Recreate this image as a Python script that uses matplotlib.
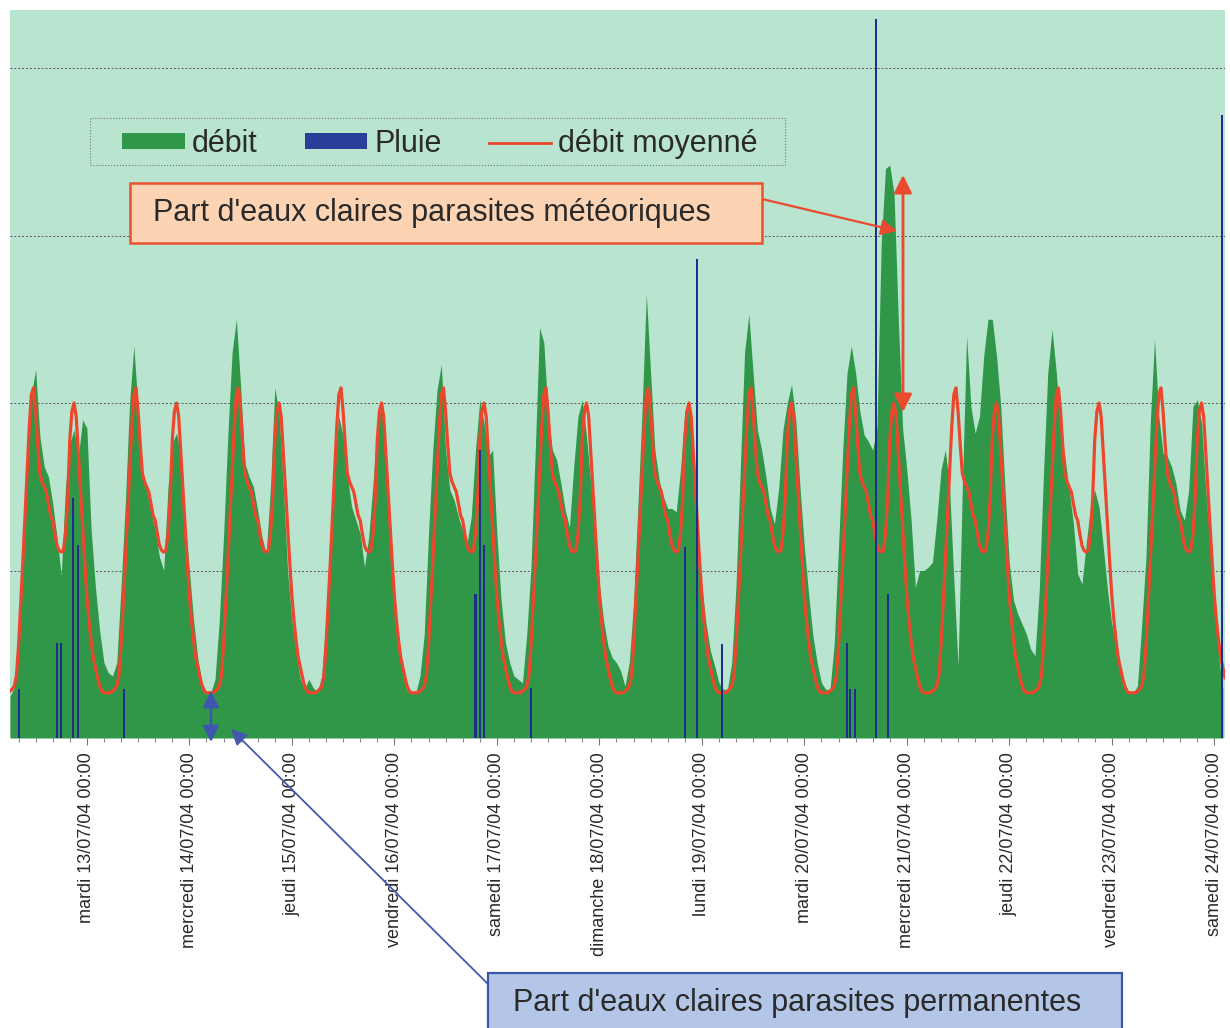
import matplotlib
matplotlib.use("Agg")
import matplotlib.pyplot as plt
import matplotlib.dates as mdates
from matplotlib.patches import Rectangle, Patch
from matplotlib.lines import Line2D
from datetime import datetime, timedelta

plt.rcParams['font.family'] = ['Liberation Sans', 'DejaVu Sans']

W, H, DPI = 1230, 1028, 100

# ---------------- data ----------------
debut = datetime(2004, 7, 12, 6, 0)          # first hourly flow sample
debit = [
    # 12/07 06h-23h
    0.25, 0.30, 0.60, 1.10, 1.70, 2.05, 2.20, 1.80, 1.62, 1.56, 1.40, 1.20, 0.97, 1.50, 1.76, 1.84, 1.68, 1.90,
    # 13/07
    1.85, 1.24, 0.90, 0.64, 0.45, 0.39, 0.37, 0.45, 0.90, 1.40, 2.00, 2.34, 1.96, 1.56, 1.48, 1.36, 1.24, 1.08, 1.00, 1.50, 1.76, 1.82, 1.68, 1.30,
    # 14/07
    1.00, 0.70, 0.47, 0.33, 0.27, 0.27, 0.35, 0.70, 1.20, 1.80, 2.30, 2.50, 2.10, 1.64, 1.56, 1.50, 1.36, 1.20, 1.10, 1.50, 2.09, 1.94, 1.50, 1.00,
    # 15/07
    0.70, 0.50, 0.35, 0.30, 0.35, 0.30, 0.27, 0.37, 0.72, 1.22, 1.62, 1.92, 1.80, 1.56, 1.38, 1.30, 1.22, 1.02, 1.20, 1.52, 1.88, 1.98, 1.62, 1.22,
    # 16/07
    0.82, 0.57, 0.37, 0.28, 0.27, 0.27, 0.37, 0.62, 1.22, 1.72, 2.08, 2.23, 1.72, 1.48, 1.42, 1.32, 1.24, 1.16, 1.32, 1.72, 2.02, 1.88, 1.68, 1.72,
    # 17/07
    1.22, 0.82, 0.57, 0.45, 0.37, 0.35, 0.33, 0.62, 1.02, 1.72, 2.45, 2.36, 1.92, 1.72, 1.66, 1.52, 1.36, 1.26, 1.62, 1.92, 2.02, 1.80, 1.52, 1.22,
    # 18/07
    0.92, 0.70, 0.55, 0.48, 0.45, 0.40, 0.31, 0.45, 0.80, 1.37, 1.95, 2.65, 2.18, 1.72, 1.54, 1.44, 1.37, 1.37, 1.35, 1.60, 1.95, 2.00, 1.60, 1.14,
    # 19/07
    0.91, 0.68, 0.52, 0.43, 0.33, 0.29, 0.29, 0.45, 0.91, 1.60, 2.30, 2.53, 2.18, 1.84, 1.72, 1.56, 1.37, 1.28, 1.49, 1.84, 2.00, 2.11, 1.90, 1.49,
    # 20/07
    1.14, 0.86, 0.61, 0.45, 0.33, 0.29, 0.29, 0.56, 1.14, 1.72, 2.18, 2.34, 2.18, 1.95, 1.81, 1.77, 1.72, 1.85, 2.95, 3.40, 3.42, 3.25, 2.50, 1.85,
    # 21/07
    1.60, 1.30, 0.90, 1.00, 1.00, 1.02, 1.05, 1.30, 1.60, 1.72, 1.50, 0.95, 0.43, 1.50, 2.40, 1.98, 1.82, 1.92, 2.28, 2.50, 2.50, 2.28, 1.98, 1.48,
    # 22/07
    1.04, 0.82, 0.74, 0.68, 0.62, 0.53, 0.49, 0.88, 1.58, 2.18, 2.44, 2.18, 1.84, 1.68, 1.48, 1.28, 0.98, 0.92, 1.16, 1.38, 1.48, 1.38, 1.14, 0.88,
    # 23/07
    0.68, 0.57, 0.41, 0.33, 0.27, 0.27, 0.31, 0.68, 1.08, 1.88, 2.38, 1.92, 1.70, 1.68, 1.62, 1.52, 1.36, 1.30, 1.48, 1.98, 2.02, 1.88, 1.48, 1.16,
    # 24/07 00h-02h
    0.82, 0.49, 0.29,
]

# averaged daily flow profile, one value per half hour from 00:00
profil_moyen = [
    0.85, 0.70, 0.58, 0.48, 0.42, 0.36, 0.31, 0.28, 0.27, 0.27, 0.27, 0.27,
    0.28, 0.29, 0.31, 0.37, 0.55, 0.80, 1.05, 1.32, 1.60, 1.85, 2.05, 2.09,
    1.95, 1.75, 1.58, 1.53, 1.50, 1.47, 1.40, 1.33, 1.30, 1.22, 1.15, 1.12,
    1.11, 1.12, 1.22, 1.42, 1.78, 1.95, 2.00, 1.92, 1.70, 1.48, 1.25, 1.05,
]
fin_moyen = datetime(2004, 7, 24, 2, 30)

pluie_dates = ["12/07/04 08:12", "12/07/04 16:54", "12/07/04 17:54", "12/07/04 20:48",
               "12/07/04 21:54", "13/07/04 08:48", "16/07/04 19:00", "16/07/04 20:00",
               "16/07/04 21:06", "17/07/04 07:54", "18/07/04 20:00", "18/07/04 22:54",
               "19/07/04 04:48", "20/07/04 09:54", "20/07/04 10:48", "20/07/04 11:48",
               "20/07/04 16:42", "20/07/04 19:42", "24/07/04 01:54"]
pluie = [0.29, 0.57, 0.57, 1.43, 1.15, 0.29, 0.86, 1.72, 1.15, 0.30, 1.14, 2.86,
         0.56, 0.57, 0.29, 0.29, 4.29, 0.86, 3.72]

jours = ["mardi 13/07/04 00:00", "mercredi 14/07/04 00:00", "jeudi 15/07/04 00:00",
         "vendredi 16/07/04 00:00", "samedi 17/07/04 00:00", "dimanche 18/07/04 00:00",
         "lundi 19/07/04 00:00", "mardi 20/07/04 00:00", "mercredi 21/07/04 00:00",
         "jeudi 22/07/04 00:00", "vendredi 23/07/04 00:00", "samedi 24/07/04 00:00"]

legende = ["débit", "Pluie", "débit moyenné"]
txt_meteo = "Part d'eaux claires parasites météoriques"
txt_perm = "Part d'eaux claires parasites permanentes"

# ---------------- style ----------------
C_BG = "#b9e4d0"
C_GREEN = "#2f9747"
C_BLUE = "#1f2d8f"
C_BLUE_LEG = "#2a3f9a"
C_RED = "#ec472c"
C_TXT = "#2a2a2a"

# ---------------- build series ----------------
t_debit = [debut + timedelta(hours=i) for i in range(len(debit))]
n_moy = int((fin_moyen - debut) / timedelta(minutes=30)) + 1
t_moy = [debut + timedelta(minutes=30 * i) for i in range(n_moy)]
v_moy = [profil_moyen[t.hour * 2 + t.minute // 30] for t in t_moy]
t_pluie = [datetime.strptime(s, "%d/%m/%y %H:%M") for s in pluie_dates]
t_jours = [datetime.strptime(s.split()[1], "%d/%m/%y") for s in jours]

fig = plt.figure(figsize=(W / DPI, H / DPI), dpi=DPI, facecolor="white")
ax = fig.add_axes([10 / W, 1 - 738 / H, 1215 / W, 728 / H])
ax.set_facecolor(C_BG)

ax.fill_between(t_debit, debit, 0, color=C_GREEN, lw=0, zorder=2)
ax.plot(t_moy, v_moy, color=C_RED, lw=2.3, zorder=3, solid_joinstyle="round")
ax.bar(t_pluie, pluie, width=0.02, color=C_BLUE, lw=0, zorder=4)

ax.set_xlim(debut, fin_moyen)
ax.set_ylim(0, 728 / 167.5)
ax.set_yticks([1, 2, 3, 4])
ax.yaxis.grid(True, color="#555555", lw=0.7, linestyle=(0, (2, 2)), zorder=1)
ax.set_axisbelow(True)
ax.tick_params(axis="y", left=False, labelleft=False)
for s in ax.spines.values():
    s.set_visible(False)

ax.set_xticks(t_jours)
ax.set_xticklabels(jours, rotation=90, ha="center", va="top", fontsize=13, color=C_TXT)
ax.xaxis.set_minor_locator(mdates.HourLocator(byhour=range(0, 24, 4)))
ax.tick_params(axis="x", which="major", length=5, width=0.8, color="#777777", pad=5)
ax.tick_params(axis="x", which="minor", length=3, width=0.8, color="#888888")


def ff(x, y):
    return (x / W, 1 - y / H)


# legend
handles = [Patch(facecolor=C_GREEN, edgecolor="none"),
           Patch(facecolor=C_BLUE_LEG, edgecolor="none"),
           Line2D([], [], color=C_RED, lw=2)]
fig.legend(handles, legende, loc="center", bbox_to_anchor=ff(440, 144), ncol=3,
           frameon=False, fontsize=22, handlelength=2.05, handleheight=0.4,
           handletextpad=0.22, columnspacing=1.55, borderpad=0, labelcolor=C_TXT)
fig.add_artist(Rectangle(ff(90, 165), 695 / W, 47 / H, transform=fig.transFigure,
                         facecolor="none", edgecolor="#777777", lw=0.8, linestyle=":",
                         zorder=5))

# meteoric annotation
fig.add_artist(Rectangle(ff(130, 243), 632 / W, 60 / H, transform=fig.transFigure,
                         facecolor="#fcd3b3", edgecolor="#e9512f", lw=1.8, zorder=10))
fig.text(*ff(432, 213), txt_meteo, ha="center", va="center", fontsize=22,
         color=C_TXT, zorder=11)
ax.annotate("", xy=ff(897, 231), xytext=ff(762, 199), xycoords="figure fraction",
            textcoords="figure fraction",
            arrowprops=dict(arrowstyle="-|>", color="#ea4a2e", lw=1.6,
                            mutation_scale=24, shrinkA=0, shrinkB=0), zorder=12)
ax.annotate("", xy=ff(903, 175), xytext=ff(903, 412), xycoords="figure fraction",
            textcoords="figure fraction",
            arrowprops=dict(arrowstyle="<|-|>", color="#ea4a2e", lw=2.0,
                            mutation_scale=27, shrinkA=0, shrinkB=0), zorder=12)

# permanent annotation
fig.add_artist(Rectangle(ff(488, 1045), 634 / W, 72 / H, transform=fig.transFigure,
                         facecolor="#b4c6e7", edgecolor="#3c58a8", lw=1.6, zorder=10))
fig.text(*ff(797, 1003), txt_perm, ha="center", va="center", fontsize=22,
         color=C_TXT, zorder=11)
ax.annotate("", xy=ff(231, 729), xytext=ff(490, 986), xycoords="figure fraction",
            textcoords="figure fraction",
            arrowprops=dict(arrowstyle="-|>", color="#4458ae", lw=1.3,
                            mutation_scale=24, shrinkA=0, shrinkB=0), zorder=12)
ax.annotate("", xy=ff(211, 691), xytext=ff(211, 742), xycoords="figure fraction",
            textcoords="figure fraction",
            arrowprops=dict(arrowstyle="<|-|>", color="#3f56b0", lw=1.8,
                            mutation_scale=24, shrinkA=0, shrinkB=0), zorder=12)

fig.savefig("out.png", dpi=DPI, facecolor="white")
